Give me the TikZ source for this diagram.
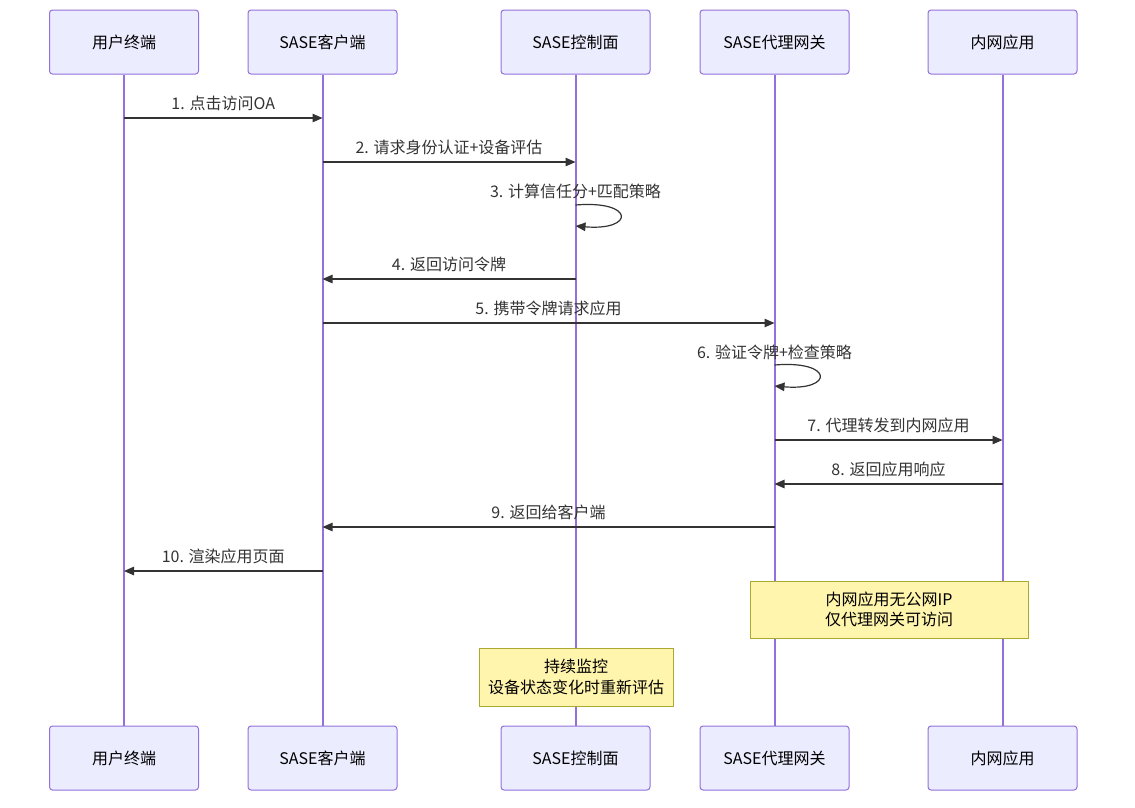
\documentclass[tikz,border=0pt]{standalone}
\usepackage{fontspec}
\setmainfont{Noto Sans CJK SC}
\usepackage{xcolor}
\usetikzlibrary{arrows.meta}

\definecolor{actfill}{HTML}{ECECFF}
\definecolor{actline}{HTML}{9370DB}
\definecolor{notefill}{HTML}{FFF5AD}
\definecolor{noteline}{HTML}{AAAA33}
\definecolor{msgline}{HTML}{333333}

\begin{document}
\begin{tikzpicture}[x=1pt,y=-1pt,
	actor/.style={draw=actline, fill=actfill, line width=1pt, rounded corners=3pt, minimum width=149pt, minimum height=64pt, inner sep=0pt, font=\fontsize{16}{20}\selectfont},
	life/.style={draw=actline, line width=2pt},
	msg/.style={draw=msgline, line width=1.2pt, -{Triangle[length=10pt,width=8.5pt]}},
	lbl/.style={midway, yshift=15pt, font=\fontsize{16}{20}\selectfont, text=msgline, inner sep=0pt},
	selflbl/.style={font=\fontsize{16}{20}\selectfont, text=msgline, inner sep=0pt},
	note/.style={draw=noteline, fill=notefill, line width=1pt, inner sep=0pt, align=center, font=\fontsize{16}{20.5}\selectfont}]
	\useasboundingbox (0,0) rectangle (1135,807);
	
	\node[actor] (u)  at (124,42) {用户终端};
	\node[actor] (c)  at (322.5,42) {SASE客户端};
	\node[actor] (k)  at (575.5,42) {SASE控制面};
	\node[actor] (g)  at (774.5,42) {SASE代理网关};
	\node[actor] (a)  at (1002.5,42) {内网应用};
	
	\node[actor] (u2) at (124,758) {用户终端};
	\node[actor] (c2) at (322.5,758) {SASE客户端};
	\node[actor] (k2) at (575.5,758) {SASE控制面};
	\node[actor] (g2) at (774.5,758) {SASE代理网关};
	\node[actor] (a2) at (1002.5,758) {内网应用};
	
	\draw[life] (u) -- (u2);
	\draw[life] (c) -- (c2);
	\draw[life] (k) -- (k2);
	\draw[life] (g) -- (g2);
	\draw[life] (a) -- (a2);
	
	\draw[msg] (u |- 0,118) -- (c |- 0,118) node[lbl] {1. 点击访问OA};
	\draw[msg] (c |- 0,162) -- (k |- 0,162) node[lbl] {2. 请求身份认证+设备评估};
	\node[selflbl] (m3) at (k |- 0,191) {3. 计算信任分+匹配策略};
	\draw[msg] (k |- 0,205) .. controls (635,200) and (635,231) .. (k |- 0,226);
	\draw[msg] (k |- 0,279) -- (c |- 0,279) node[lbl] {4. 返回访问令牌};
	\draw[msg] (c |- 0,323) -- (g |- 0,323) node[lbl] {5. 携带令牌请求应用};
	\node[selflbl] (m6) at (g |- 0,352) {6. 验证令牌+检查策略};
	\draw[msg] (g |- 0,365) .. controls (834,360) and (834,391) .. (g |- 0,386);
	\draw[msg] (g |- 0,440) -- (a |- 0,440) node[lbl] {7. 代理转发到内网应用};
	\draw[msg] (a |- 0,484) -- (g |- 0,484) node[lbl] {8. 返回应用响应};
	\draw[msg] (g |- 0,527) -- (c |- 0,527) node[lbl] {9. 返回给客户端};
	\draw[msg] (c |- 0,571) -- (u |- 0,571) node[lbl] {10. 渲染应用页面};
	
	%notes
	\node[note, minimum width=278pt, minimum height=57pt] (n1) at (889,609.5) {内网应用无公网IP\\仅代理网关可访问};
	\node[note, minimum width=194pt, minimum height=58pt] (n2) at (576,677) {持续监控\\设备状态变化时重新评估};
	
\end{tikzpicture}
\end{document}
